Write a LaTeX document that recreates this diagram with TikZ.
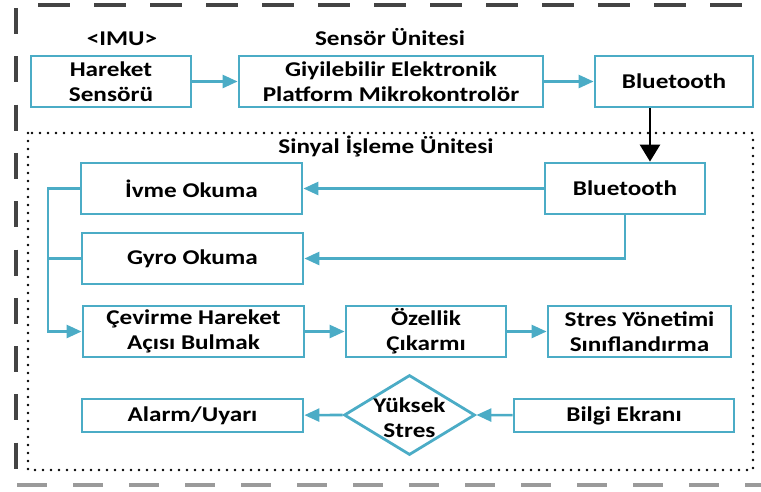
\documentclass[tikz,border=0pt]{standalone}
\usepackage{fontspec}
\setmainfont{Carlito}[FakeStretch=1.2]
\usetikzlibrary{arrows.meta,shapes.geometric}
\definecolor{tealb}{HTML}{4BACC6}
\definecolor{dashdark}{HTML}{444444}
\definecolor{dashlight}{HTML}{9A9A9A}
\begin{document}
\begin{tikzpicture}[x=1pt,y=-1pt,
  txt/.style={font=\bfseries\fontsize{21}{25}\selectfont},
  box/.style={txt,draw=tealb,line width=2.8pt,inner sep=0pt,align=center,minimum height=51pt},
  lbl/.style={txt,inner sep=0pt,anchor=base},
  tarr/.style={draw=tealb,line width=2.6pt,-{Triangle[length=15pt,width=13pt]}},
  tline/.style={draw=tealb,line width=2.6pt},
  barr/.style={draw=black,line width=2.6pt,-{Triangle[length=17pt,width=20pt]}},
]
\useasboundingbox (0,0) rectangle (761,491);
% outer dashed frame
\draw[dashdark,line width=3.2pt,dash pattern=on 32pt off 24pt] (38,5) -- (761,5);
\draw[dashdark,line width=3.2pt,dash pattern=on 26pt off 22.3pt] (16,8) -- (16,470);
\draw[dashlight,line width=3.2pt,dash pattern=on 30pt off 26pt] (17,485) -- (761,485);
% inner dotted frame
\draw[line width=2.6pt,line cap=round,dash pattern=on 0pt off 8pt] (28,133) rectangle (753,470);

% titles
\node[lbl] (imu) at (122,45) {<IMU>};
\node[lbl] (su) at (390,45) {Sensör Ünitesi};
\node[lbl] (siu) at (386,153) {Sinyal İşleme Ünitesi};

% row 1
\node[box,minimum width=160pt] (hs) at (111,81.5) {Hareket\\Sensörü};
\node[box,minimum width=304pt] (gy) at (391,81.5) {Giyilebilir Elektronik\\Platform Mikrokontrolör};
\node[box,minimum width=158pt] (bt1) at (674,81.5) {Bluetooth};

% signal processing
\node[box,minimum width=160pt] (bt2) at (625,188.5) {Bluetooth};
\node[box,minimum width=221pt] (iv) at (191.5,188.5) {İvme Okuma};
\node[box,minimum width=221pt] (gr) at (192.5,258.5) {Gyro Okuma};
\node[box,minimum width=221pt] (cv) at (193.5,331.5) {Çevirme Hareket\\Açısı Bulmak};
\node[box,minimum width=160pt] (oz) at (426,331.5) {Özellik\\Çıkarmı};
\node[box,minimum width=183pt] (st) at (639.5,331.5) {Stres Yönetimi\\Sınıflandırma};
\node[box,minimum width=221pt,minimum height=33pt] (al) at (192.5,415.5) {Alarm/Uyarı};
\node[draw=tealb,line width=2.8pt,diamond,minimum width=131pt,minimum height=80pt,inner sep=0pt] (dm) at (409.5,415) {};
\node[txt,align=center,inner sep=0pt] (dmt) at (409.5,418) {Yüksek\\Stres};
\node[box,minimum width=220pt,minimum height=33pt] (bi) at (624,415.5) {Bilgi Ekranı};

% connectors
\draw[tarr] (hs) -- (gy);
\draw[tarr] (gy) -- (bt1);
\coordinate (bk) at (650,0);
\draw[barr] (bt1.south -| bk) -- (bt2.north -| bk);
\draw[tarr] (bt2) -- (iv);
\draw[tarr] (bt2.south) |- (gr.east);
\coordinate (lb) at (48,0);
\draw[tarr] (iv.west) -- (iv.west -| lb) |- (cv.west);
\draw[tline] (gr.west) -- (gr.west -| lb);
\draw[tarr] (cv) -- (oz);
\draw[tarr] (oz) -- (st);
\draw[tarr] (bi) -- (dm.east);
\draw[tarr] (dm.west) -- (al);
\end{tikzpicture}
\end{document}
